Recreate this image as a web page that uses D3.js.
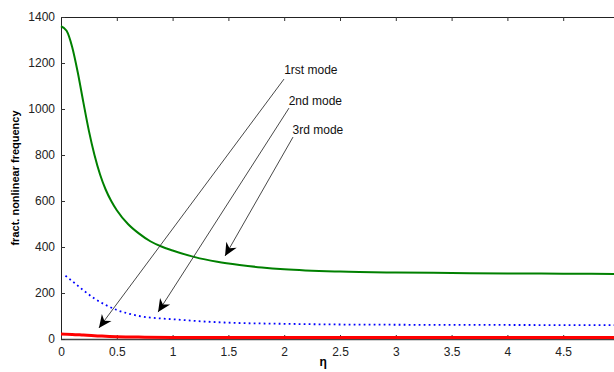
<!DOCTYPE html>
<html>
<head>
<meta charset="utf-8">
<script src="https://cdn.jsdelivr.net/npm/d3@7/dist/d3.min.js"></script>
<style>
  body { margin: 0; background: #fff; }
  svg { display: block; font-family: "Liberation Sans", Arial, sans-serif; }
</style>
</head>
<body>
<script>
// eta values and the three modes
var eta1 = [0, 0.05, 0.1, 0.15, 0.2, 0.25, 0.3, 0.35, 0.4, 0.45, 0.5, 0.6, 0.7, 0.8, 0.9, 1.0, 1.2, 1.4, 1.6, 1.8, 2.0, 2.5, 3, 3.5, 4, 4.5, 5];
var mode1 = [1360, 1340, 1270, 1160, 1030, 905, 800, 715, 650, 600, 560, 500, 458, 425, 402, 385, 356, 336, 322, 311, 303, 293, 289, 287, 285, 284, 283];

var eta2 = [0.04, 0.1, 0.2, 0.3, 0.4, 0.5, 0.6, 0.7, 0.8, 0.9, 1.0, 1.25, 1.5, 2.0, 2.5, 3, 4, 5];
var mode2 = [275, 252, 212, 176, 148, 126, 111, 100, 93, 89, 86, 77, 71, 66, 63, 62, 61, 60];

var eta3 = [0, 0.1, 0.2, 0.3, 0.4, 0.5, 0.75, 1, 1.5, 2, 3, 5];
var mode3 = [22, 20, 17, 14, 12, 10, 8, 7, 6.5, 6, 6, 6];

var yTicks = [0, 200, 400, 600, 800, 1000, 1200, 1400];
var xTicks = [0, 0.5, 1, 1.5, 2, 2.5, 3, 3.5, 4, 4.5];

// annotations: label anchor, line start and arrow tip, in data units
var notes = [
  { label: "1rst mode", tx: 2.0, ty: 1170, x0: 1.998, y0: 1130, x1: 0.34, y1: 48 },
  { label: "2nd mode",  tx: 2.04, ty: 1035, x0: 2.043, y0: 1004, x1: 0.87, y1: 117 },
  { label: "3rd mode",  tx: 2.075, ty: 909, x0: 2.079, y0: 878,  x1: 1.47, y1: 361 }
];

var width = 614, height = 372;
var plotL = 61, plotT = 17, plotR = 619, plotB = 339;

var svg = d3.select("body").append("svg")
    .attr("width", width)
    .attr("height", height);

var x = d3.scaleLinear().domain([0, 5]).range([plotL, plotR]);
var y = d3.scaleLinear().domain([0, 1400]).range([plotB, plotT]);

// frame
svg.append("line").attr("x1", plotL).attr("x2", plotR).attr("y1", plotT + 0.5).attr("y2", plotT + 0.5)
    .attr("stroke", "#222").attr("stroke-width", 1);
svg.append("line").attr("x1", plotL + 0.5).attr("x2", plotL + 0.5).attr("y1", plotT).attr("y2", plotB)
    .attr("stroke", "#222").attr("stroke-width", 1);
svg.append("line").attr("x1", plotL).attr("x2", plotR).attr("y1", plotB + 0.5).attr("y2", plotB + 0.5)
    .attr("stroke", "#444").attr("stroke-width", 1.5);

// inward ticks
var xAxisB = svg.append("g").attr("transform", "translate(0," + plotB + ")")
    .call(d3.axisBottom(x).tickValues(xTicks).tickSizeInner(-4).tickSizeOuter(0).tickPadding(8)
      .tickFormat(function(d) { return d3.format("")(d); }));
var xAxisT = svg.append("g").attr("transform", "translate(0," + plotT + ")")
    .call(d3.axisTop(x).tickValues(xTicks.slice(1)).tickSizeInner(-4).tickSizeOuter(0).tickFormat(""));
var yAxisL = svg.append("g").attr("transform", "translate(" + plotL + ",0)")
    .call(d3.axisLeft(y).tickValues(yTicks).tickSizeInner(-4).tickSizeOuter(0).tickPadding(6)
      .tickFormat(function(d) { return d3.format("")(d); }));

[xAxisB, xAxisT, yAxisL].forEach(function(g) {
  g.select(".domain").remove();
  g.selectAll(".tick line").attr("stroke", "#333");
  g.selectAll("text").attr("font-size", 12).attr("fill", "#222")
    .attr("font-family", "'Liberation Sans', Arial, sans-serif");
});

var line = d3.line()
    .x(function(d) { return x(d[0]); })
    .y(function(d) { return y(d[1]); })
    .curve(d3.curveMonotoneX);

svg.append("path")
    .datum(d3.zip(eta2, mode2))
    .attr("d", line)
    .attr("fill", "none")
    .attr("stroke", "#0000ff")
    .attr("stroke-width", 1.8)
    .attr("stroke-dasharray", "1.8,3.2");

svg.append("path")
    .datum(d3.zip(eta3, mode3))
    .attr("d", line)
    .attr("fill", "none")
    .attr("stroke", "#ff0000")
    .attr("stroke-width", 3);

svg.append("path")
    .datum(d3.zip(eta1, mode1))
    .attr("d", line)
    .attr("fill", "none")
    .attr("stroke", "#008000")
    .attr("stroke-width", 2);

// annotation arrows
var ann = svg.append("g").selectAll("g")
    .data(notes)
  .enter().append("g");

ann.append("line")
    .attr("x1", function(d) { return x(d.x0); })
    .attr("y1", function(d) { return y(d.y0); })
    .attr("x2", function(d) { return x(d.x1); })
    .attr("y2", function(d) { return y(d.y1); })
    .attr("stroke", "#333")
    .attr("stroke-width", 0.9);

ann.append("path")
    .attr("d", "M0,0 L-13,-6 L-9,0 L-13,6 Z")
    .attr("fill", "#000")
    .attr("transform", function(d) {
      var px = x(d.x1), py = y(d.y1);
      var a = Math.atan2(py - y(d.y0), px - x(d.x0)) * 180 / Math.PI;
      return "translate(" + px + "," + py + ") rotate(" + a + ")";
    });

ann.append("text")
    .attr("x", function(d) { return x(d.tx); })
    .attr("y", function(d) { return y(d.ty); })
    .attr("dy", "0.35em")
    .attr("font-size", 12)
    .attr("fill", "#111")
    .text(function(d) { return d.label; });

// axis labels
svg.append("text")
    .attr("x", x(2.35))
    .attr("y", 366)
    .attr("text-anchor", "middle")
    .attr("font-size", 12)
    .attr("font-weight", "bold")
    .text("η");

svg.append("text")
    .attr("transform", "translate(19," + (plotT + plotB) / 2 + ") rotate(-90)")
    .attr("text-anchor", "middle")
    .attr("font-size", 11)
    .attr("font-weight", "bold")
    .text("fract. nonlinear frequency");
</script>
</body>
</html>
